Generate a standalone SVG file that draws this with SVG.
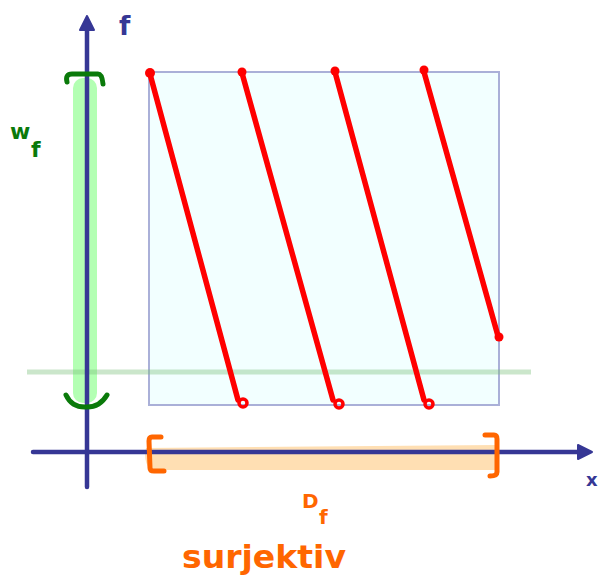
<svg xmlns="http://www.w3.org/2000/svg" width="600" height="587" viewBox="0 0 600 587">
<style>
.axis{stroke:#363795;stroke-width:4.5;fill:none;stroke-linecap:round}
.red{stroke:#ff0000;stroke-width:5.5;fill:none;stroke-linecap:round;stroke-linejoin:round}
.green{stroke:#0a7a0a;stroke-width:5;fill:none;stroke-linecap:round;stroke-linejoin:round}
.orange{stroke:#ff6600;stroke-width:5;fill:none;stroke-linecap:round;stroke-linejoin:round}
.hand{font-family:"DejaVu Sans",sans-serif;font-weight:bold}
</style>
<rect width="600" height="587" fill="#ffffff"/>
<g id="domain-box">
<rect x="149" y="72" width="350" height="333" fill="#f2ffff" stroke="#aab0d8" stroke-width="2"/>
</g>
<g id="range-band">
<rect x="73" y="78" width="24" height="325" rx="10" fill="#b3ffb3"/>
</g>
<g id="domain-band">
<path d="M146,448 L497,445 L497,470 L150,470 Q143,460 146,448 Z" fill="#ffdfb3"/>
</g>
<g id="hline">
<line x1="27" y1="372" x2="531" y2="372" stroke="#7cc07c" stroke-opacity="0.4" stroke-width="5"/>
</g>
<g id="axes">
<line class="axis" x1="87" y1="487" x2="87" y2="26"/>
<polygon points="87,16 80,30 94,30" fill="#363795" stroke="#363795" stroke-width="2" stroke-linejoin="round"/>
<line class="axis" x1="33" y1="452" x2="582" y2="452"/>
<polygon points="592,452 578,445 578,459" fill="#363795" stroke="#363795" stroke-width="2" stroke-linejoin="round"/>
</g>
<g id="connectors">
<line class="red" x1="150" y1="74" x2="238" y2="400"/>
<circle cx="243" cy="403" r="4" fill="none" stroke="#ff0000" stroke-width="3.5"/>
<circle cx="150" cy="73" r="5" fill="#ff0000"/>
<line class="red" x1="242" y1="73" x2="333" y2="400"/>
<circle cx="339" cy="404" r="4" fill="none" stroke="#ff0000" stroke-width="3.5"/>
<circle cx="242" cy="72" r="4.5" fill="#ff0000"/>
<line class="red" x1="335" y1="72" x2="424" y2="400"/>
<circle cx="429" cy="404" r="4" fill="none" stroke="#ff0000" stroke-width="3.5"/>
<circle cx="335" cy="71" r="4.5" fill="#ff0000"/>
<line class="red" x1="424" y1="72" x2="498" y2="336"/>
<circle cx="424" cy="70" r="4.5" fill="#ff0000"/>
<circle cx="499" cy="337" r="4.5" fill="#ff0000"/>
</g>
<g id="range-brackets">
<path class="green" d="M67,82 Q65,74 72,74 L98,74 Q102,74 103,84"/>
<path class="green" d="M66,395 Q72,408 87,407 Q100,407 107,395"/>
</g>
<g id="domain-brackets">
<path class="orange" d="M161,437 L152,437 Q149,437 149,441 L150,468 Q150,471 154,471 L164,471"/>
<path class="orange" d="M485,435 L494,435 Q497,435 497,439 L497,472 Q497,476 490,476"/>
</g>
<g id="labels">
<text class="hand" x="119" y="35" font-size="26" fill="#363795">f</text>
<text class="hand" x="586" y="486" font-size="18" fill="#363795">x</text>
<text class="hand" x="10" y="139" font-size="22" fill="#0a7a0a">w</text>
<text class="hand" x="31" y="157" font-size="22" fill="#0a7a0a">f</text>
<text class="hand" x="302" y="508" font-size="20" fill="#ff6600">D</text>
<text class="hand" x="319" y="524" font-size="20" fill="#ff6600">f</text>
<text class="hand" x="182" y="568" font-size="32" fill="#ff6600" textLength="164" lengthAdjust="spacingAndGlyphs">surjektiv</text>
</g>
</svg>
